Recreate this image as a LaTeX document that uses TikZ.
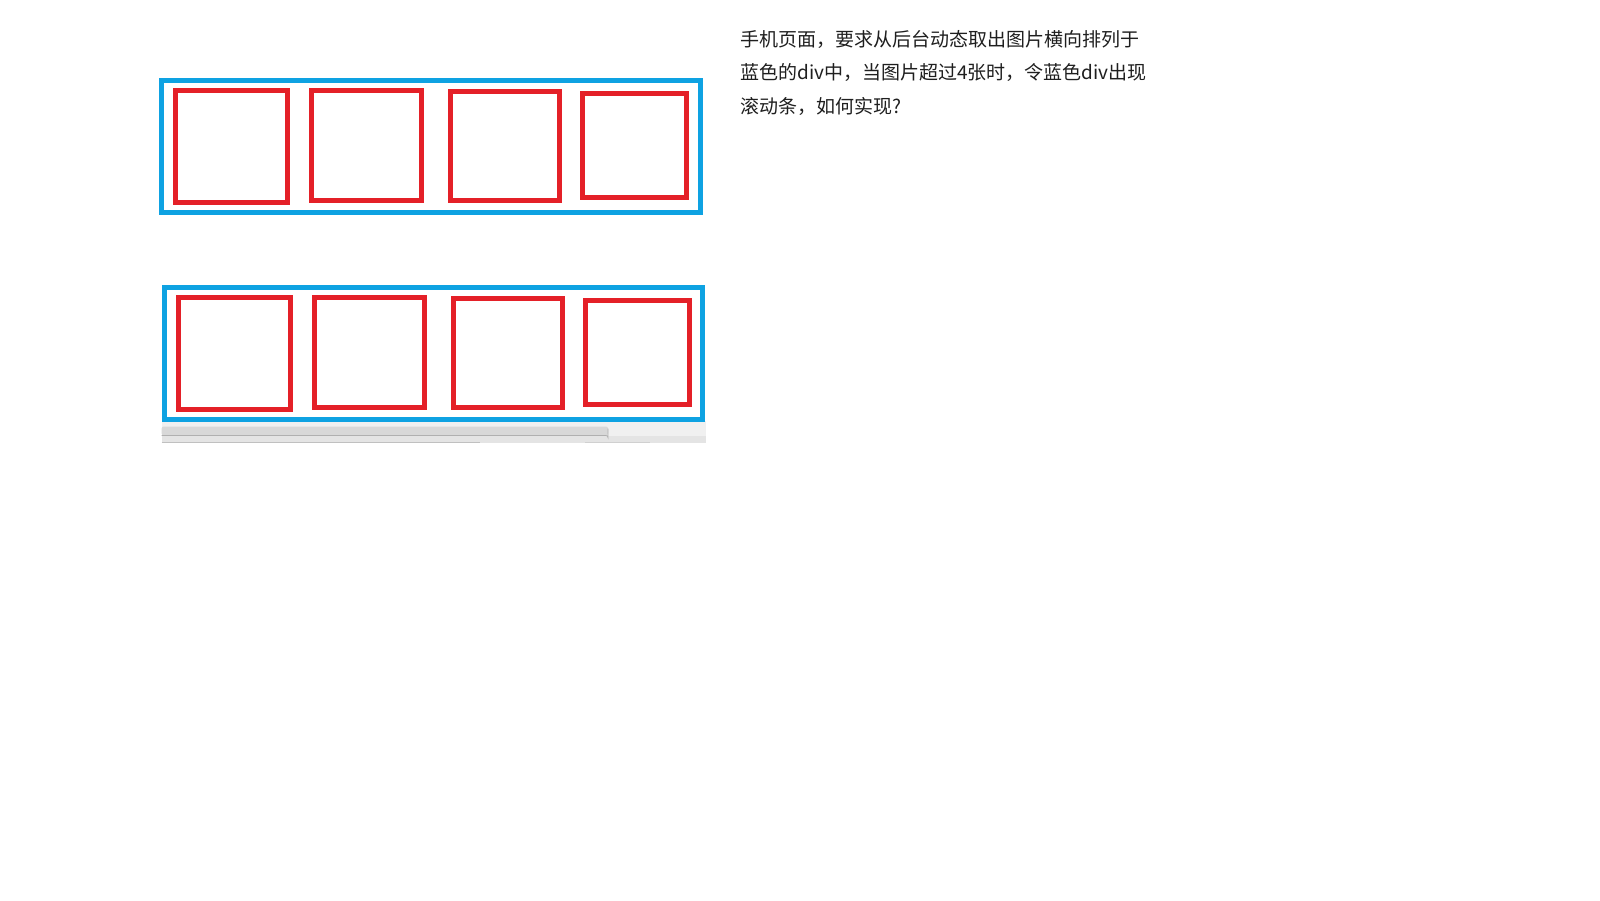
\documentclass[tikz,border=0pt]{standalone}
\usepackage{fontspec}
\newfontfamily\cjk{Noto Sans CJK SC}
\definecolor{divblue}{RGB}{14,162,226}
\definecolor{imgred}{RGB}{228,32,40}
\definecolor{trackgray}{RGB}{240,240,240}
\definecolor{thumbgray}{RGB}{216,216,216}
\definecolor{lowband}{RGB}{228,228,228}
\definecolor{edgegray}{RGB}{176,176,176}
\begin{document}
\begin{tikzpicture}[x=0.5pt,y=-0.5pt,
  divbox/.style={draw=divblue,line width=2.4pt},
  imgbox/.style={draw=imgred,line width=2.5pt},
  qtext/.style={anchor=base west,inner sep=0pt,font=\cjk\fontsize{9.5pt}{16pt}\selectfont,text=black!88}]
\useasboundingbox[fill=white] (0,0) rectangle (1600,900);

% top row
\draw[divbox] (161.5,80.5) rectangle (700.5,212.3);
\draw[imgbox] (175.3,90.8) rectangle (287.2,202.5);
\draw[imgbox] (311.8,90.8) rectangle (421.7,200.2);
\draw[imgbox] (450.2,91.5) rectangle (559.2,200.2);
\draw[imgbox] (582.5,93.5) rectangle (686.5,197.5);

% scrollbar under bottom row
\fill[trackgray] (161.7,421) rectangle (706,442.7);
\fill[lowband] (161.7,435.5) rectangle (706,442.7);
\fill[thumbgray, rounded corners=1pt] (161.7,426.5) rectangle (608,435.5);
\draw[edgegray, line width=0.4pt] (161.7,435.5) -- (606,435.5) arc[start angle=-90,end angle=0,radius=2] -- (608,428.5);
\draw[edgegray!80, line width=0.5pt] (161.7,442.7) -- (480,442.7);
\draw[edgegray!60, line width=0.5pt] (585,442.7) -- (650,442.7);

% bottom row
\draw[divbox] (164.5,287.2) rectangle (702.5,419.2);
\draw[imgbox] (178.5,297.5) rectangle (290.8,409.2);
\draw[imgbox] (314.8,297.5) rectangle (424.2,407.5);
\draw[imgbox] (453.5,298.5) rectangle (562.5,407.5);
\draw[imgbox] (585.8,300.8) rectangle (689.2,404.8);

% question text
\node[qtext] (t1) at (740,46.5) {手机页面，要求从后台动态取出图片横向排列于};
\node[qtext] (t2) at (740,79.8) {蓝色的div中，当图片超过4张时，令蓝色div出现};
\node[qtext] (t3) at (740,113) {滚动条，如何实现?};
\end{tikzpicture}
\end{document}
